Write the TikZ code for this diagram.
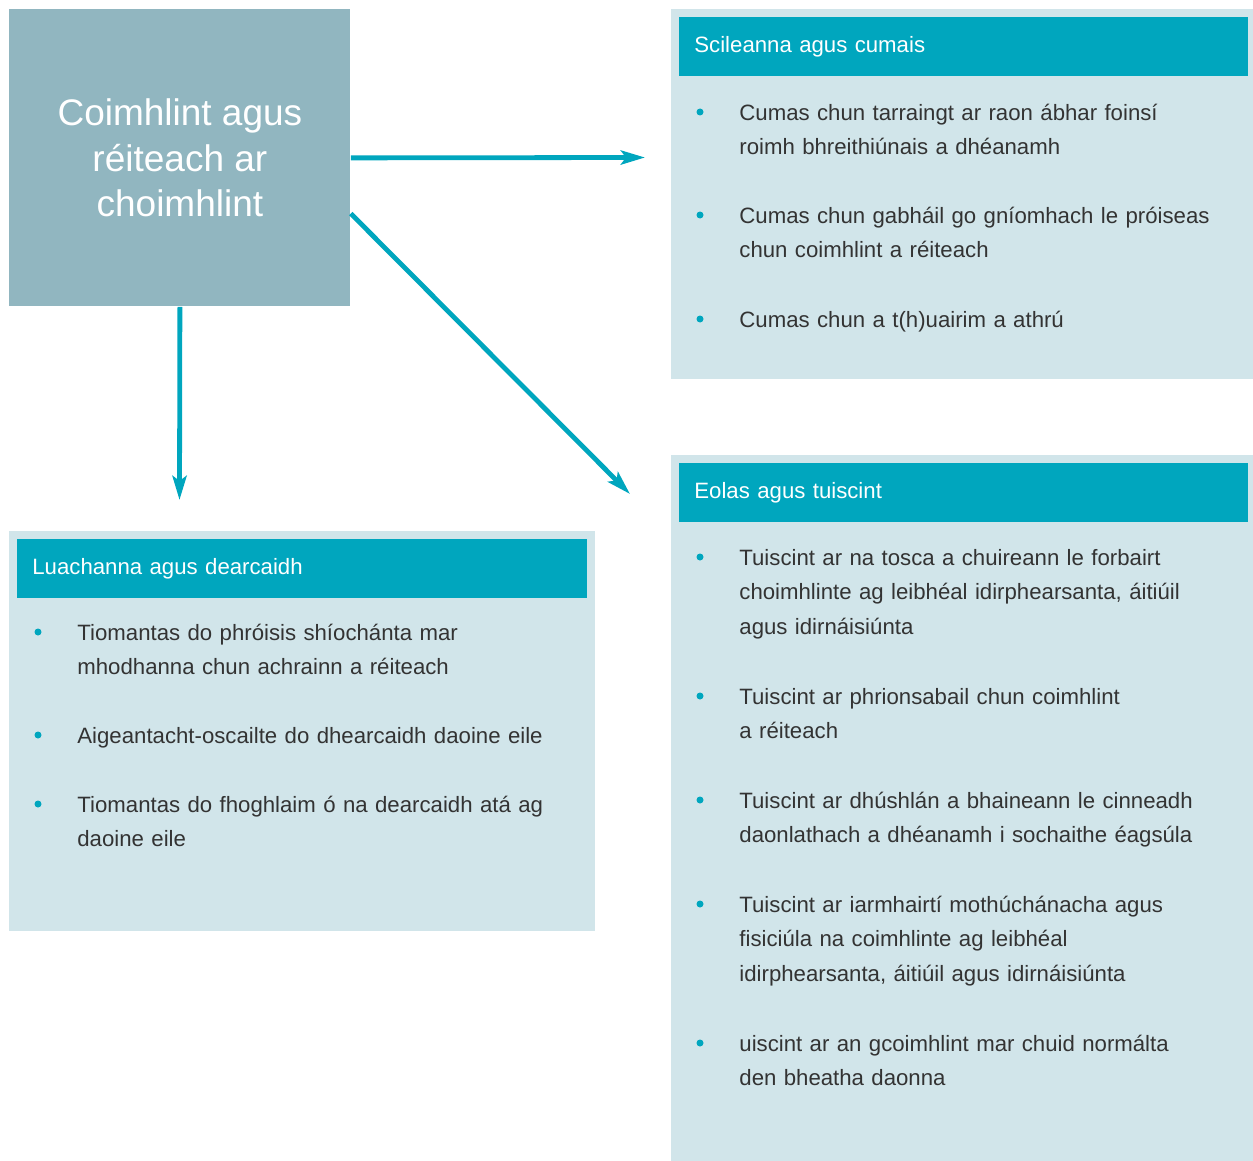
\documentclass[tikz,border=0pt]{standalone}
\usepackage{fontspec}
\setmainfont{Liberation Sans}
\usetikzlibrary{arrows.meta,calc}
\definecolor{slate}{HTML}{91B6C0}
\definecolor{pale}{HTML}{D1E5EA}
\definecolor{sea}{HTML}{00A6BE}
\definecolor{ink}{HTML}{333333}
\newcommand\bodyfont{\fontsize{11.1}{17.25}\selectfont}
\tikzset{
  hub/.style={fill=slate, text=white, anchor=north west, align=center, inner sep=0pt,
    font=\fontsize{18.5}{22.6}\selectfont},
  panel/.style={fill=pale, anchor=north west, inner sep=0pt},
  band/.style={fill=sea, text=white, anchor=north west, inner xsep=7.5pt, inner ysep=0pt,
    align=left, text height=8pt, text depth=2.5pt, minimum height=29.5pt, font=\bodyfont},
  item/.style={anchor=base west, inner sep=0pt, align=left, text width=250pt, text=ink, font=\bodyfont},
  dot/.style={circle, fill=sea, inner sep=0pt, minimum size=3.5pt},
  link/.style={draw=sea, line width=2.4pt, -{Stealth[length=12pt,width=7pt,inset=2.5pt]}},
}

\begin{document}
\begin{tikzpicture}[x=0.5pt,y=-0.5pt]
  \useasboundingbox (0,0) rectangle (1253,1161);

  %%%%% panels %%%%%
  \node[hub, minimum width=170.5pt, minimum height=148.5pt] (main) at (9,9) {Coimhlint agus\\réiteach ar\\choimhlint};

  \node[panel, minimum width=291pt, minimum height=185pt] (scil) at (671,9) {};
  \node[band, minimum width=284.5pt, text width=269.5pt] (scilhead) at (679,17) {Scileanna agus cumais};

  \node[panel, minimum width=291pt, minimum height=353pt] (eolas) at (671,455) {};
  \node[band, minimum width=284.5pt, text width=269.5pt] (eolashead) at (679,463) {Eolas agus tuiscint};

  \node[panel, minimum width=293pt, minimum height=200pt] (luach) at (9,531) {};
  \node[band, minimum width=285pt, text width=270pt] (luachhead) at (17,539) {Luachanna agus dearcaidh};

  %%%%% items %%%%%
  \node[item] (s1) at (739,120) {Cumas chun tarraingt ar raon ábhar foinsí\\roimh bhreithiúnais a dhéanamh};
  \node[item] (s2) at (739,223) {Cumas chun gabháil go gníomhach le próiseas\\chun coimhlint a réiteach};
  \node[item] (s3) at (739,327) {Cumas chun a t(h)uairim a athrú};

  \node[item] (e1) at (739,565) {Tuiscint ar na tosca a chuireann le forbairt\\choimhlinte ag leibhéal idirphearsanta, áitiúil\\agus idirnáisiúnta};
  \node[item] (e2) at (739,704) {Tuiscint ar phrionsabail chun coimhlint\\a réiteach};
  \node[item] (e3) at (739,808) {Tuiscint ar dhúshlán a bhaineann le cinneadh\\daonlathach a dhéanamh i sochaithe éagsúla};
  \node[item] (e4) at (739,912) {Tuiscint ar iarmhairtí mothúchánacha agus\\fisiciúla na coimhlinte ag leibhéal\\idirphearsanta, áitiúil agus idirnáisiúnta};
  \node[item] (e5) at (739,1051) {uiscint ar an gcoimhlint mar chuid normálta\\den bheatha daonna};

  \node[item] (l1) at (77,640) {Tiomantas do phróisis shíochánta mar\\mhodhanna chun achrainn a réiteach};
  \node[item] (l2) at (77,743) {Aigeantacht-oscailte do dhearcaidh daoine eile};
  \node[item] (l3) at (77,812) {Tiomantas do fhoghlaim ó na dearcaidh atá ag\\daoine eile};

  %%%%% bullets %%%%%
  \node[dot] (s1d) at ($(s1.base west)+(-19.5pt,4pt)$) {};
  \node[dot] (s2d) at ($(s2.base west)+(-19.5pt,4pt)$) {};
  \node[dot] (s3d) at ($(s3.base west)+(-19.5pt,4pt)$) {};
  \node[dot] (e1d) at ($(e1.base west)+(-19.5pt,4pt)$) {};
  \node[dot] (e2d) at ($(e2.base west)+(-19.5pt,4pt)$) {};
  \node[dot] (e3d) at ($(e3.base west)+(-19.5pt,4pt)$) {};
  \node[dot] (e4d) at ($(e4.base west)+(-19.5pt,4pt)$) {};
  \node[dot] (e5d) at ($(e5.base west)+(-19.5pt,4pt)$) {};
  \node[dot] (l1d) at ($(l1.base west)+(-19.5pt,4pt)$) {};
  \node[dot] (l2d) at ($(l2.base west)+(-19.5pt,4pt)$) {};
  \node[dot] (l3d) at ($(l3.base west)+(-19.5pt,4pt)$) {};

  %%%%% arrows %%%%%
  \coordinate (scilend) at (645,157.5);
  \coordinate (eolasend) at (630,494);
  \coordinate (luachend) at (179.5,500);
  \draw[link] (main.east) -- (scilend);
  \draw[link] ($(main.north east)!0.687!(main.south east)$) -- (eolasend);
  \draw[link] (main.south) -- (luachend);
\end{tikzpicture}
\end{document}
